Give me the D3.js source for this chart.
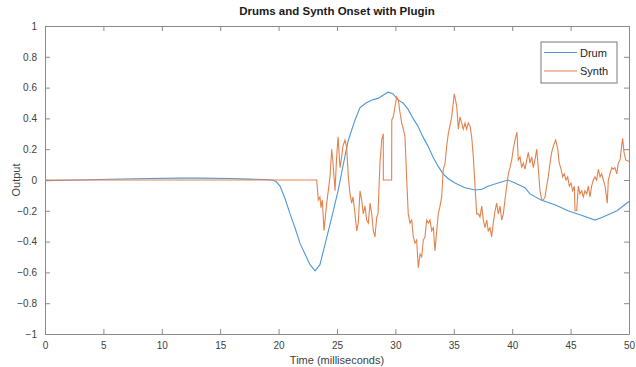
<!DOCTYPE html>
<html>
<head>
<meta charset="utf-8">
<script src="https://cdn.jsdelivr.net/npm/d3@7"></script>
<style>
  html, body { margin: 0; padding: 0; background: #fff; }
  svg { display: block; }
  text { font-family: "Liberation Sans", Arial, sans-serif; }
</style>
</head>
<body>
<svg id="chart" width="636" height="367"></svg>
<script>
// ---- data ----
const title = "Drums and Synth Onset with Plugin";
const xLabel = "Time (milliseconds)";
const yLabel = "Output";
const seriesNames = ["Drum", "Synth"];
const xTicks = [0, 5, 10, 15, 20, 25, 30, 35, 40, 45, 50];
const yTicks = [-1, -0.8, -0.6, -0.4, -0.2, 0, 0.2, 0.4, 0.6, 0.8, 1];

const drumT = [0, 3.0, 5.57, 8.99, 11.56, 13.27, 15.84, 17.55, 18.84, 19.43, 19.78, 20.12, 20.55, 20.98, 21.40, 21.83, 22.26, 22.69, 23.12, 23.54, 23.97, 24.49, 25.09, 25.51, 25.94, 26.54, 26.97, 27.48, 27.99, 28.51, 28.94, 29.37, 29.79, 30.22, 30.65, 31.08, 31.51, 31.93, 32.36, 32.79, 33.22, 33.65, 34.08, 34.50, 35.10, 35.96, 36.82, 37.41, 37.93, 38.78, 39.64, 40.24, 41.10, 41.52, 42.47, 43.66, 44.78, 45.98, 47.09, 47.77, 48.97, 50.0];
const drumV = [-0.005, 0.0, 0.005, 0.01, 0.012, 0.012, 0.01, 0.006, 0.003, 0.0, -0.01, -0.04, -0.12, -0.22, -0.31, -0.41, -0.48, -0.55, -0.59, -0.55, -0.42, -0.26, -0.07, 0.09, 0.25, 0.39, 0.47, 0.5, 0.52, 0.53, 0.55, 0.57, 0.56, 0.52, 0.5, 0.46, 0.4, 0.35, 0.28, 0.22, 0.15, 0.09, 0.04, 0.01, -0.02, -0.05, -0.065, -0.06, -0.04, -0.02, 0.0, -0.02, -0.05, -0.09, -0.13, -0.16, -0.2, -0.23, -0.26, -0.24, -0.2, -0.14];

const synthT = [0, 23.26, 23.40, 23.54, 23.63, 23.74, 23.89, 24.00, 24.12, 24.40, 24.55, 24.66, 24.83, 24.97, 25.09, 25.26, 25.40, 25.51, 25.68, 25.83, 25.97, 26.11, 26.26, 26.37, 26.54, 26.69, 26.82, 26.97, 27.11, 27.25, 27.40, 27.54, 27.68, 27.83, 27.97, 28.11, 28.25, 28.40, 28.51, 28.68, 28.83, 28.96, 28.97, 29.68, 29.69, 29.82, 29.97, 30.11, 30.25, 30.39, 30.54, 30.68, 30.82, 30.97, 31.10, 31.25, 31.40, 31.53, 31.68, 31.82, 31.96, 32.11, 32.25, 32.39, 32.53, 32.68, 32.82, 32.96, 33.11, 33.25, 33.39, 33.54, 33.67, 33.82, 33.96, 34.10, 34.25, 34.39, 34.53, 34.82, 35.04, 35.25, 35.39, 35.53, 35.68, 35.81, 35.96, 36.10, 36.24, 36.39, 36.53, 36.67, 36.96, 37.10, 37.24, 37.39, 37.53, 37.67, 37.82, 37.95, 38.10, 38.24, 38.38, 38.53, 38.67, 38.81, 38.96, 39.10, 39.24, 39.38, 39.53, 39.67, 39.81, 39.96, 40.09, 40.24, 40.41, 40.52, 40.67, 40.81, 40.95, 41.10, 41.24, 41.38, 41.52, 41.67, 41.81, 41.95, 42.10, 42.23, 42.38, 42.53, 42.66, 42.81, 42.95, 43.09, 43.24, 43.38, 43.52, 43.72, 43.90, 44.03, 44.18, 44.32, 44.46, 44.61, 44.75, 44.89, 45.03, 45.18, 45.32, 45.38, 45.52, 45.66, 45.80, 45.95, 46.09, 46.23, 46.38, 46.52, 46.66, 46.80, 46.94, 47.09, 47.23, 47.37, 47.52, 47.66, 47.80, 47.95, 48.14, 48.23, 48.37, 48.52, 48.65, 48.80, 48.95, 49.08, 49.23, 49.37, 49.46, 49.57, 49.72, 50.0];
const synthV = [0, 0, -0.13, -0.11, -0.18, -0.13, -0.33, -0.24, -0.15, 0.02, 0.2, 0.11, -0.07, 0.15, 0.28, 0.08, 0.15, 0.22, 0.26, 0.21, 0.02, -0.09, -0.15, -0.11, -0.22, -0.33, -0.28, -0.07, -0.13, -0.22, -0.17, -0.26, -0.28, -0.15, -0.22, -0.33, -0.37, -0.24, -0.22, 0.11, 0.26, 0.3, 0, 0, 0.39, 0.41, 0.48, 0.54, 0.52, 0.44, 0.37, 0.33, 0.28, 0, -0.22, -0.28, -0.26, -0.37, -0.41, -0.39, -0.57, -0.48, -0.5, -0.39, -0.37, -0.26, -0.28, -0.26, -0.33, -0.31, -0.46, -0.33, -0.22, -0.17, -0.11, 0.07, 0.11, 0.22, 0.3, 0.41, 0.56, 0.48, 0.33, 0.41, 0.37, 0.33, 0.37, 0.33, 0.37, 0.35, 0.28, 0.15, -0.22, -0.22, -0.24, -0.17, -0.26, -0.31, -0.26, -0.33, -0.31, -0.37, -0.28, -0.2, -0.15, -0.22, -0.17, -0.26, -0.22, -0.13, -0.04, 0.04, 0.08, 0.13, 0.2, 0.26, 0.31, 0.13, 0.15, 0.08, 0.11, 0.07, 0.13, 0.18, 0.11, 0.15, 0.08, 0.13, 0.2, 0.08, -0.07, -0.13, -0.13, -0.11, -0.04, 0.02, 0.11, 0.18, 0.22, 0.26, 0.2, 0.11, 0.07, 0.02, 0.04, 0, 0.02, -0.04, -0.02, -0.07, -0.04, -0.2, -0.2, -0.04, -0.09, -0.07, -0.11, -0.07, -0.09, -0.04, -0.11, -0.04, 0, 0.02, 0, 0.07, 0.02, 0.04, 0, -0.04, -0.15, 0, 0.04, 0.08, 0.07, 0.08, 0.04, 0.11, 0.13, 0.22, 0.27, 0.18, 0.13, 0.12];

const colors = ["#4f97d4", "#e3824e"];

// ---- layout ----
const svg = d3.select("#chart");
const L = 45, R = 629, T = 26, B = 334;
const x = d3.scaleLinear().domain([0, 50]).range([L, R]);
const y = d3.scaleLinear().domain([-1, 1]).range([B, T]);
const axisColor = "#8a8a8a", textColor = "#404040";

// box and ticks (MATLAB style, inward ticks on all sides)
function styleAxis(g) {
  g.select(".domain").attr("stroke", axisColor);
  g.selectAll(".tick line").attr("stroke", axisColor);
  g.selectAll(".tick text").attr("fill", textColor).style("font-size", "10px")
    .style("font-family", "'Liberation Sans', Arial, sans-serif");
}
const gxB = svg.append("g").attr("transform", `translate(0,${B})`)
  .call(d3.axisBottom(x).tickValues(xTicks).tickSizeInner(-5).tickSizeOuter(0).tickPadding(8).tickFormat(d3.format("d")));
styleAxis(gxB);
const gxT = svg.append("g").attr("transform", `translate(0,${T})`)
  .call(d3.axisTop(x).tickValues(xTicks).tickSizeInner(-5).tickSizeOuter(0).tickFormat(""));
styleAxis(gxT);
const gyL = svg.append("g").attr("transform", `translate(${L},0)`)
  .call(d3.axisLeft(y).tickValues(yTicks).tickSizeInner(-5).tickSizeOuter(0).tickPadding(8).tickFormat(d => d3.format("")(+d.toFixed(1))));
styleAxis(gyL);
const gyR = svg.append("g").attr("transform", `translate(${R},0)`)
  .call(d3.axisRight(y).tickValues(yTicks).tickSizeInner(-5).tickSizeOuter(0).tickFormat(""));
styleAxis(gyR);

// lines
const line = d3.line().x(d => x(d[0])).y(d => y(d[1]));
const drum = drumT.map((t, i) => [t, drumV[i]]);
const synth = synthT.map((t, i) => [t, synthV[i]]);
svg.append("path").datum(drum).attr("d", line).attr("fill", "none")
  .attr("stroke", colors[0]).attr("stroke-width", 1.1);
svg.append("path").datum(synth).attr("d", line).attr("fill", "none")
  .attr("stroke", colors[1]).attr("stroke-width", 1.1);

// title and labels
svg.append("text").attr("x", (L + R) / 2).attr("y", 15).attr("text-anchor", "middle")
  .style("font-size", "11.5px").style("font-weight", "bold").attr("fill", "#1a1a1a").text(title);
svg.append("text").attr("x", (L + R) / 2).attr("y", 364).attr("text-anchor", "middle")
  .style("font-size", "11px").attr("fill", textColor).text(xLabel);
svg.append("text").attr("transform", `translate(20,${y(0)}) rotate(-90)`).attr("text-anchor", "middle")
  .style("font-size", "11px").attr("fill", textColor).text(yLabel);

// legend
const lg = svg.append("g");
lg.append("rect").attr("x", 541).attr("y", 42).attr("width", 76).attr("height", 41)
  .attr("fill", "#fff").attr("stroke", "#7a7a7a").attr("stroke-width", 1);
seriesNames.forEach((name, i) => {
  const ly = 52.5 + i * 18.5;
  lg.append("line").attr("x1", 544).attr("x2", 577).attr("y1", ly).attr("y2", ly)
    .attr("stroke", colors[i]).attr("stroke-width", 1.1);
  lg.append("text").attr("x", 580).attr("y", ly + 4).style("font-size", "11px")
    .attr("fill", "#222").text(name);
});
</script>
</body>
</html>
